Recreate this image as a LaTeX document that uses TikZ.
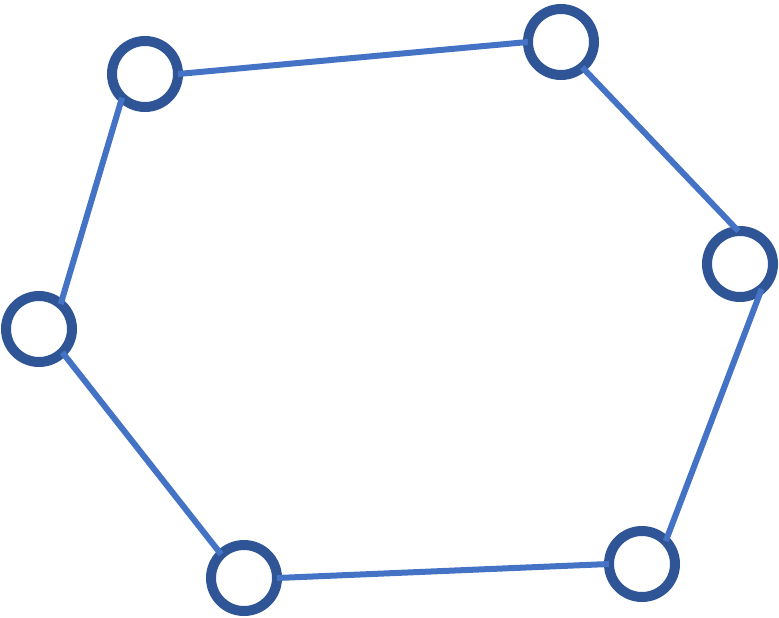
\documentclass[tikz,border=0pt]{standalone}
\definecolor{ringblue}{RGB}{47,85,151}
\definecolor{edgeblue}{RGB}{68,114,196}

\begin{document}
\begin{tikzpicture}[x=1pt,y=-1pt,
        vertex/.style={circle, draw=ringblue, line width=10pt, fill=white,
            minimum size=66pt, inner sep=0pt, outer sep=0pt},
        link/.style={edgeblue, line width=6pt}]
        \useasboundingbox (0,0) rectangle (779,618);

        % 六个顶点
        \node[vertex] (v1) at (145,74) {};
        \node[vertex] (v2) at (561,42) {};
        \node[vertex] (v3) at (740,264) {};
        \node[vertex] (v4) at (642,564) {};
        \node[vertex] (v5) at (244,578) {};
        \node[vertex] (v6) at (39,329) {};

        % 连接相邻顶点
        \foreach \i/\a/\j/\b in {1/0/2/180,2/-50/3/93,3/-49/4/44,4/180/5/0,5/134/6/-45,6/49/1/226}
            {
                \draw[link] (v\i.\a) -- (v\j.\b);
            }

    \end{tikzpicture}
\end{document}
